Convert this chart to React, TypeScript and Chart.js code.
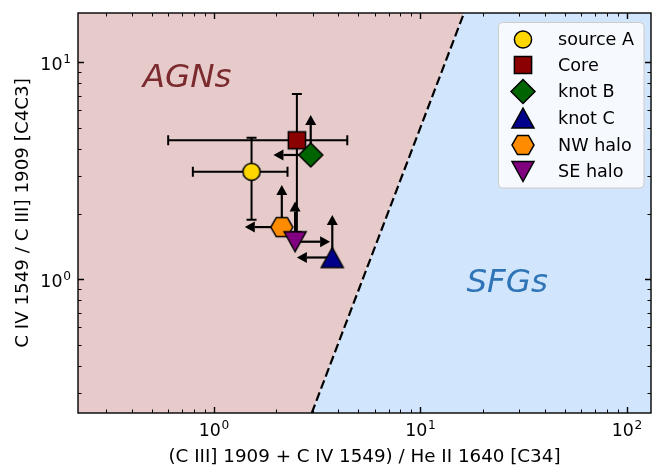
import React, { useEffect, useRef } from "react";
import { Chart, registerables } from "chart.js";

Chart.register(...registerables);

// ---------------- data ----------------
const seriesNames = ["source A", "Core", "knot B", "knot C", "NW halo", "SE halo"];
const seriesColors = ["#FFD700", "#8B0000", "#006400", "#00008B", "#FF8C00", "#800080"];
const seriesMarkers = ["circle", "square", "diamond", "triangleUp", "hexagon", "triangleDown"];

// C34 = (C III] 1909 + C IV 1549) / He II 1640 ; C4C3 = C IV 1549 / C III] 1909
const c34Values = [1.52, 2.52, 2.94, 3.74, 2.13, 2.47];
const c4c3Values = [3.13, 4.37, 3.74, 1.26, 1.74, 1.49];

// error bars (null = none)
const c34ErrLow = [0.79, 0.6, null, null, null, null];
const c34ErrHigh = [2.27, 4.42, null, null, null, null];
const c4c3ErrLow = [1.88, 1.65, null, null, null, null];
const c4c3ErrHigh = [4.49, 7.14, null, null, null, null];

// limit arrows: end value of the arrow (null = none)
const c34ArrowTo = [null, null, 1.94, 2.52, 1.41, 3.65];
const c4c3ArrowTo = [null, null, 5.72, 1.98, 2.72, 2.28];

// axes
const c34Range = [0.2195, 130.7];
const c4c3Range = [0.242, 16.87];
const xMajorTicks = [1, 10, 100];
const yMajorTicks = [1, 10];
const xTickExponents = ["0", "1", "2"];
const yTickExponents = ["0", "1"];

// AGN / SFG dividing line: log(C4C3) = slope * log(C34) + intercept
const boundarySlope = 2.5;
const boundaryIntercept = -1.8;

const regionLabels = ["AGNs", "SFGs"];
const regionLabelX = [0.452, 16.7];
const regionLabelY = [7.72, 0.877];

const xTitle = "(C III] 1909 + C IV 1549) / He II 1640 [C34]";
const yTitle = "C IV 1549 / C III] 1909 [C4C3]";

// ---------------- styling ----------------
const FONT = '"DejaVu Sans", "Liberation Sans", sans-serif';
const FS = 17.4;
const FS_TITLE = 18.3;
const FS_LEGEND = 17.6;
const FS_REGION = 32.5;
const AGN_FILL = "#E7CBCB";
const SFG_FILL = "#D1E6FC";
const AGN_TEXT = "#7B2A2E";
const SFG_TEXT = "#2E74B7";

function markerPath(ctx: CanvasRenderingContext2D, shape: string, cx: number, cy: number) {
  ctx.beginPath();
  if (shape === "circle") {
    ctx.arc(cx, cy, 8.6, 0, Math.PI * 2);
  } else if (shape === "square") {
    ctx.rect(cx - 8.6, cy - 8.6, 17.2, 17.2);
  } else if (shape === "diamond") {
    const r = 12;
    ctx.moveTo(cx, cy - r);
    ctx.lineTo(cx + r, cy);
    ctx.lineTo(cx, cy + r);
    ctx.lineTo(cx - r, cy);
    ctx.closePath();
  } else if (shape === "triangleUp") {
    ctx.moveTo(cx, cy - 10);
    ctx.lineTo(cx + 11, cy + 10);
    ctx.lineTo(cx - 11, cy + 10);
    ctx.closePath();
  } else if (shape === "triangleDown") {
    ctx.moveTo(cx, cy + 10);
    ctx.lineTo(cx + 11, cy - 10);
    ctx.lineTo(cx - 11, cy - 10);
    ctx.closePath();
  } else if (shape === "hexagon") {
    const r = 11;
    for (let k = 0; k < 6; k++) {
      const a = (k * Math.PI) / 3;
      const px = cx + r * Math.cos(a);
      const py = cy + r * Math.sin(a);
      if (k === 0) ctx.moveTo(px, py);
      else ctx.lineTo(px, py);
    }
    ctx.closePath();
  }
}

function makeMarkerCanvas(shape: string, color: string) {
  const size = 34;
  const c = document.createElement("canvas");
  c.width = size;
  c.height = size;
  const ctx = c.getContext("2d")!;
  markerPath(ctx, shape, size / 2, size / 2);
  ctx.fillStyle = color;
  ctx.fill();
  ctx.lineWidth = 1.5;
  ctx.lineJoin = "miter";
  ctx.strokeStyle = "#000";
  ctx.stroke();
  return c;
}

function drawArrow(ctx: CanvasRenderingContext2D, x0: number, y0: number, x1: number, y1: number) {
  const dx = x1 - x0;
  const dy = y1 - y0;
  const len = Math.hypot(dx, dy);
  if (len < 1) return;
  const ux = dx / len;
  const uy = dy / len;
  const headL = 10;
  const headW = 5.5;
  const bx = x1 - ux * headL;
  const by = y1 - uy * headL;
  ctx.beginPath();
  ctx.moveTo(x0, y0);
  ctx.lineTo(bx, by);
  ctx.lineWidth = 2.2;
  ctx.strokeStyle = "#000";
  ctx.stroke();
  ctx.beginPath();
  ctx.moveTo(x1, y1);
  ctx.lineTo(bx - uy * headW, by + ux * headW);
  ctx.lineTo(bx + uy * headW, by - ux * headW);
  ctx.closePath();
  ctx.fillStyle = "#000";
  ctx.fill();
}

function drawPow10(ctx: CanvasRenderingContext2D, exp: string, x: number, baseline: number, align: "center" | "right") {
  ctx.font = `${FS}px ${FONT}`;
  const wBase = ctx.measureText("10").width;
  ctx.font = `${FS * 0.7}px ${FONT}`;
  const wExp = ctx.measureText(exp).width;
  const gap = 0.8;
  const total = wBase + gap + wExp;
  const left = align === "center" ? x - total / 2 : x - total;
  ctx.textAlign = "left";
  ctx.textBaseline = "alphabetic";
  ctx.fillStyle = "#000";
  ctx.font = `${FS}px ${FONT}`;
  ctx.fillText("10", left, baseline);
  ctx.font = `${FS * 0.7}px ${FONT}`;
  ctx.fillText(exp, left + wBase + gap, baseline - 7);
}

const decoPlugin = {
  id: "deco",
  beforeDatasetsDraw(chart: any) {
    const { ctx, chartArea: a, scales } = chart;
    const xs = scales.x;
    const ys = scales.y;
    const xAtY = (y: number) => Math.pow(10, (Math.log10(y) - boundaryIntercept) / boundarySlope);
    const xTop = xs.getPixelForValue(xAtY(c4c3Range[1]));
    const xBot = xs.getPixelForValue(xAtY(c4c3Range[0]));
    ctx.save();
    ctx.beginPath();
    ctx.rect(a.left, a.top, a.right - a.left, a.bottom - a.top);
    ctx.clip();
    ctx.fillStyle = AGN_FILL;
    ctx.beginPath();
    ctx.moveTo(a.left, a.top);
    ctx.lineTo(xTop, a.top);
    ctx.lineTo(xBot, a.bottom);
    ctx.lineTo(a.left, a.bottom);
    ctx.closePath();
    ctx.fill();
    ctx.fillStyle = SFG_FILL;
    ctx.beginPath();
    ctx.moveTo(xTop, a.top);
    ctx.lineTo(a.right, a.top);
    ctx.lineTo(a.right, a.bottom);
    ctx.lineTo(xBot, a.bottom);
    ctx.closePath();
    ctx.fill();

    // region labels
    ctx.font = `italic ${FS_REGION}px ${FONT}`;
    ctx.textAlign = "left";
    ctx.textBaseline = "alphabetic";
    const cols = [AGN_TEXT, SFG_TEXT];
    regionLabels.forEach((t, i) => {
      ctx.fillStyle = cols[i];
      ctx.fillText(t, xs.getPixelForValue(regionLabelX[i]), ys.getPixelForValue(regionLabelY[i]));
    });

    // error bars and limit arrows
    ctx.lineCap = "butt";
    for (let i = 0; i < seriesNames.length; i++) {
      const px = xs.getPixelForValue(c34Values[i]);
      const py = ys.getPixelForValue(c4c3Values[i]);
      ctx.strokeStyle = "#000";
      ctx.lineWidth = 2;
      const cap = 5;
      if (c34ErrLow[i] != null && c34ErrHigh[i] != null) {
        const l = xs.getPixelForValue(c34ErrLow[i]);
        const r = xs.getPixelForValue(c34ErrHigh[i]);
        ctx.beginPath();
        ctx.moveTo(l, py);
        ctx.lineTo(r, py);
        ctx.moveTo(l, py - cap);
        ctx.lineTo(l, py + cap);
        ctx.moveTo(r, py - cap);
        ctx.lineTo(r, py + cap);
        ctx.stroke();
      }
      if (c4c3ErrLow[i] != null && c4c3ErrHigh[i] != null) {
        const b = ys.getPixelForValue(c4c3ErrLow[i]);
        const t = ys.getPixelForValue(c4c3ErrHigh[i]);
        ctx.beginPath();
        ctx.moveTo(px, b);
        ctx.lineTo(px, t);
        ctx.moveTo(px - cap, t);
        ctx.lineTo(px + cap, t);
        ctx.moveTo(px - cap, b);
        ctx.lineTo(px + cap, b);
        ctx.stroke();
      }
      if (c34ArrowTo[i] != null) {
        drawArrow(ctx, px, py, xs.getPixelForValue(c34ArrowTo[i]), py);
      }
      if (c4c3ArrowTo[i] != null) {
        drawArrow(ctx, px, py, px, ys.getPixelForValue(c4c3ArrowTo[i]));
      }
    }
    ctx.restore();
  },
  afterDraw(chart: any) {
    const { ctx, chartArea: a, scales } = chart;
    const xs = scales.x;
    const ys = scales.y;
    ctx.save();
    // frame
    ctx.strokeStyle = "#000";
    ctx.lineWidth = 1.4;
    ctx.strokeRect(a.left, a.top, a.right - a.left, a.bottom - a.top);

    // ticks (inward on all sides)
    const tick = (p: number, len: number, w: number, horizontalAxis: boolean) => {
      ctx.lineWidth = w;
      ctx.beginPath();
      if (horizontalAxis) {
        ctx.moveTo(p, a.bottom);
        ctx.lineTo(p, a.bottom - len);
        ctx.moveTo(p, a.top);
        ctx.lineTo(p, a.top + len);
      } else {
        ctx.moveTo(a.left, p);
        ctx.lineTo(a.left + len, p);
        ctx.moveTo(a.right, p);
        ctx.lineTo(a.right - len, p);
      }
      ctx.stroke();
    };
    const eachTick = (range: number[], cb: (v: number, major: boolean) => void) => {
      for (let e = -2; e <= 3; e++) {
        for (let m = 1; m <= 9; m++) {
          const v = m * Math.pow(10, e);
          if (v >= range[0] && v <= range[1]) cb(v, m === 1);
        }
      }
    };
    eachTick(c34Range, (v, major) => tick(Math.round(xs.getPixelForValue(v)) + 0.5, major ? 6 : 3.5, major ? 1.4 : 1, true));
    eachTick(c4c3Range, (v, major) => tick(Math.round(ys.getPixelForValue(v)) + 0.5, major ? 6 : 3.5, major ? 1.4 : 1, false));

    // tick labels
    xMajorTicks.forEach((v, i) => drawPow10(ctx, xTickExponents[i], xs.getPixelForValue(v), a.bottom + 23, "center"));
    yMajorTicks.forEach((v, i) => drawPow10(ctx, yTickExponents[i], a.left - 7, ys.getPixelForValue(v) + 7.5, "right"));

    // axis titles
    ctx.fillStyle = "#000";
    ctx.font = `${FS_TITLE}px ${FONT}`;
    ctx.textAlign = "center";
    ctx.textBaseline = "alphabetic";
    ctx.fillText(xTitle, (a.left + a.right) / 2, 462);
    ctx.save();
    ctx.translate(28, (a.top + a.bottom) / 2);
    ctx.rotate(-Math.PI / 2);
    ctx.fillText(yTitle, 0, 0);
    ctx.restore();

    // legend
    const lx = 498.5, ly = 22.5, lw = 145.5, lh = 165.5, rr = 4;
    ctx.beginPath();
    ctx.moveTo(lx + rr, ly);
    ctx.lineTo(lx + lw - rr, ly);
    ctx.arcTo(lx + lw, ly, lx + lw, ly + rr, rr);
    ctx.lineTo(lx + lw, ly + lh - rr);
    ctx.arcTo(lx + lw, ly + lh, lx + lw - rr, ly + lh, rr);
    ctx.lineTo(lx + rr, ly + lh);
    ctx.arcTo(lx, ly + lh, lx, ly + lh - rr, rr);
    ctx.lineTo(lx, ly + rr);
    ctx.arcTo(lx, ly, lx + rr, ly, rr);
    ctx.closePath();
    ctx.fillStyle = "rgba(255,255,255,0.8)";
    ctx.fill();
    ctx.strokeStyle = "#CCCCCC";
    ctx.lineWidth = 1;
    ctx.stroke();

    const rowY = [39.5, 65, 91.5, 118, 145, 171.5];
    ctx.font = `${FS_LEGEND}px ${FONT}`;
    ctx.textAlign = "left";
    ctx.textBaseline = "middle";
    seriesNames.forEach((name, i) => {
      ctx.save();
      markerPath(ctx, seriesMarkers[i], 523, rowY[i]);
      ctx.fillStyle = seriesColors[i];
      ctx.fill();
      ctx.lineWidth = 1.5;
      ctx.lineJoin = "miter";
      ctx.strokeStyle = "#000";
      ctx.stroke();
      ctx.restore();
      ctx.fillStyle = "#000";
      ctx.fillText(name, 558, rowY[i] + 1);
    });
    ctx.restore();
  },
};

export default function App() {
  const ref = useRef<HTMLCanvasElement | null>(null);
  useEffect(() => {
    const canvas = ref.current!;
    const xAtY = (y: number) => Math.pow(10, (Math.log10(y) - boundaryIntercept) / boundarySlope);
    const datasets: any[] = seriesNames.map((name, i) => ({
      type: "scatter",
      label: name,
      data: [{ x: c34Values[i], y: c4c3Values[i] }],
      pointStyle: makeMarkerCanvas(seriesMarkers[i], seriesColors[i]),
      pointRadius: 12,
      backgroundColor: seriesColors[i],
      borderColor: "#000",
      order: seriesNames.length - i,
    }));
    datasets.push({
      type: "line",
      label: "boundary",
      data: [
        { x: xAtY(c4c3Range[0]), y: c4c3Range[0] },
        { x: xAtY(c4c3Range[1]), y: c4c3Range[1] },
      ],
      borderColor: "#000",
      borderWidth: 2.2,
      borderDash: [9, 4],
      pointRadius: 0,
      fill: false,
      order: 100,
    });
    const chart = new Chart(canvas, {
      type: "scatter",
      data: { datasets },
      options: {
        responsive: false,
        animation: false,
        devicePixelRatio: 1,
        layout: { autoPadding: false, padding: { left: 0, top: 13, right: 2, bottom: 0 } },
        plugins: { legend: { display: false }, tooltip: { enabled: false } },
        scales: {
          x: {
            type: "logarithmic",
            min: c34Range[0],
            max: c34Range[1],
            grid: { display: false },
            border: { display: false },
            ticks: { display: false },
            afterFit: (s: any) => {
              s.height = 53;
            },
          },
          y: {
            type: "logarithmic",
            min: c4c3Range[0],
            max: c4c3Range[1],
            grid: { display: false },
            border: { display: false },
            ticks: { display: false },
            afterFit: (s: any) => {
              s.width = 78;
            },
          },
        },
      } as any,
      plugins: [decoPlugin],
    });
    return () => chart.destroy();
  }, []);
  return (
    <div style={{ position: "fixed", left: 0, top: 0, width: 653, height: 466, background: "#fff" }}>
      <canvas ref={ref} width={653} height={466} style={{ display: "block", width: 653, height: 466 }} />
    </div>
  );
}
